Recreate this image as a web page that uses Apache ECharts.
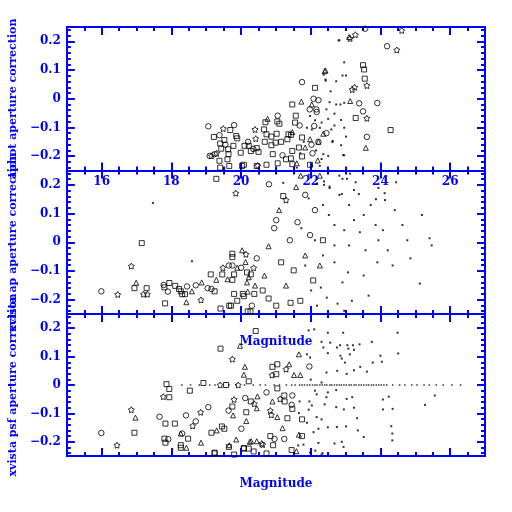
<!DOCTYPE html>
<html>
<head>
<meta charset="utf-8">
<script src="https://cdn.jsdelivr.net/npm/echarts@6/dist/echarts.min.js"></script>
<style>
  html, body { margin: 0; padding: 0; background: #fff; }
  #chart { width: 512px; height: 512px; }
</style>
</head>
<body>
<div id="chart"></div>
<script>
// tick labels
const xMajor = [16, 18, 20, 22, 24, 26]
const yMajor = [-0.2, -0.1, 0, 0.1, 0.2]
const yNames = ['aphot aperture correction', 'xvista ap aperture correction', 'xvista psf aperture correction']

// top panel: aphot
const topSquares = [[19.22,-0.133],[19.52,-0.144],[19.69,-0.109],[19.86,-0.130],[19.89,-0.138],[19.40,-0.156],[19.43,-0.174],[19.63,-0.176],[19.64,-0.193],[19.78,-0.164],[19.38,-0.216],[19.61,-0.211],[19.40,-0.240],[19.66,-0.234],[20.03,-0.234],[20.08,-0.230],[19.99,-0.188],[20.10,-0.164],[20.22,-0.164],[20.28,-0.182],[20.45,-0.172],[20.50,-0.185],[20.66,-0.107],[20.70,-0.082],[21.04,-0.079],[21.10,-0.087],[20.73,-0.124],[20.87,-0.132],[21.02,-0.122],[20.68,-0.150],[20.87,-0.162],[20.99,-0.153],[21.15,-0.150],[21.33,-0.141],[21.36,-0.124],[21.43,-0.126],[21.55,-0.083],[21.57,-0.059],[21.75,-0.135],[21.66,-0.170],[21.47,-0.182],[21.43,-0.208],[21.75,-0.201],[20.91,-0.193],[21.05,-0.225],[21.29,-0.211],[20.45,-0.234],[20.73,-0.230],[21.47,-0.228],[21.98,-0.230],[21.47,-0.020],[22.12,0.038],[23.50,0.117],[23.53,0.102],[23.55,0.070],[23.29,-0.067],[24.29,-0.109]]
const topCircles = [[19.06,-0.096],[19.38,-0.127],[19.80,-0.092],[19.10,-0.199],[19.24,-0.193],[19.55,-0.160],[21.05,-0.059],[21.68,-0.093],[21.75,0.058],[21.19,-0.197],[21.97,-0.037],[22.17,-0.046],[22.08,0.0],[22.22,-0.005],[22.16,-0.037],[22.10,-0.095],[22.45,-0.120],[22.22,-0.150],[22.02,-0.160],[22.05,-0.190],[23.56,0.244],[24.19,0.183],[23.39,-0.016],[23.91,-0.015],[23.50,-0.044],[23.61,-0.133],[20.20,-0.150],[20.35,-0.175]]
const topStars = [[19.49,-0.104],[20.40,-0.107],[20.42,-0.139],[19.15,-0.199],[19.30,-0.190],[23.13,0.210],[23.28,0.223],[24.61,0.238],[24.47,0.170],[23.19,0.032],[23.26,0.040],[23.61,0.046],[23.61,-0.068],[20.48,-0.233]]
const topTriangles = [[20.76,-0.070],[21.47,-0.116],[21.73,-0.010],[21.84,-0.170],[21.98,-0.141],[22.22,-0.150],[22.36,-0.122],[22.40,0.096],[22.42,0.099],[23.13,-0.008],[23.58,-0.171],[23.10,0.215],[22.03,-0.020],[22.20,-0.215],[21.60,-0.225]]
const topDots = [[21.89,-0.101],[21.98,-0.060],[22.03,-0.107],[22.12,-0.075],[22.26,-0.101],[22.31,-0.083],[22.50,-0.070],[22.59,-0.107],[22.68,-0.093],[22.87,-0.074],[22.96,-0.101],[23.01,-0.132],[22.63,-0.147],[22.87,-0.162],[22.36,-0.193],[22.50,-0.199],[22.96,-0.197],[22.45,-0.037],[22.54,-0.012],[22.73,-0.020],[22.96,-0.014],[22.96,0.127],[22.42,0.067],[22.73,0.061],[22.91,0.081],[23.01,0.081],[22.57,0.026],[22.82,0.204],[22.31,-0.210],[22.03,-0.234],[22.26,-0.234],[22.85,-0.020],[22.68,-0.052],[22.62,-0.151],[22.37,0.084],[22.43,0.063],[22.80,0.203],[22.93,-0.196],[21.80,-0.150],[21.70,-0.190],[22.15,-0.180],[21.60,-0.240]]

// middle panel: xvista ap
const midSquares = [[16.94,-0.160],[17.29,-0.160],[17.82,-0.213],[17.80,-0.157],[17.94,-0.142],[18.11,-0.152],[18.22,-0.163],[18.27,-0.171],[18.31,-0.181],[18.39,-0.181],[19.24,-0.171],[19.13,-0.112],[19.46,-0.112],[19.80,-0.112],[19.75,-0.040],[19.75,-0.052],[20.28,-0.112],[19.75,-0.131],[20.05,-0.180],[20.08,-0.188],[19.80,-0.180],[20.38,-0.180],[19.41,-0.231],[19.66,-0.221],[19.71,-0.221],[20.19,-0.241],[20.27,-0.241],[17.15,-0.003],[19.29,0.221],[21.21,0.161],[20.17,-0.105],[20.62,-0.168],[21.15,-0.070],[21.51,-0.098],[21.70,-0.204],[22.07,-0.133],[19.89,-0.204],[20.79,-0.196],[21.01,-0.221],[21.42,-0.211],[22.35,0.007]]
const midCircles = [[15.99,-0.171],[17.78,-0.149],[17.90,-0.172],[18.45,-0.154],[18.70,-0.150],[19.04,-0.160],[19.15,-0.163],[19.65,-0.081],[20.00,-0.089],[20.80,0.202],[20.45,-0.056],[20.95,0.049],[21.40,0.007],[21.62,0.070],[21.98,0.025],[20.31,-0.221],[19.75,-0.081],[22.12,0.112],[21.84,0.165],[21.01,0.077]]
const midStars = [[16.46,-0.182],[16.85,-0.083],[17.20,-0.181],[17.31,-0.181],[18.85,-0.201],[19.48,-0.089],[20.14,-0.042],[20.36,-0.089],[19.85,0.171],[21.29,0.147]]
const midTriangles = [[16.99,-0.141],[18.59,-0.171],[18.87,-0.140],[18.43,-0.209],[19.29,-0.131],[19.61,-0.129],[19.89,-0.089],[20.13,-0.069],[20.22,-0.122],[20.17,-0.140],[20.19,-0.172],[21.58,0.192],[22.26,0.232],[21.71,0.232],[20.79,-0.014],[21.09,0.112],[21.29,-0.151],[21.84,-0.046],[20.40,-0.151],[20.67,-0.116],[20.03,-0.028],[22.26,-0.081]]
const midDots = [[18.59,-0.066],[17.47,0.137],[21.21,0.207],[21.94,0.153],[21.94,0.235],[22.17,0.204],[22.38,0.212],[22.38,0.200],[22.54,0.194],[22.82,0.232],[22.91,0.221],[23.04,0.221],[23.13,0.239],[23.29,0.209],[22.89,0.168],[23.38,0.168],[24.12,0.171],[24.45,0.209],[23.87,0.150],[22.35,0.130],[22.52,0.095],[22.68,0.060],[23.10,0.130],[23.24,0.077],[23.41,0.035],[23.10,-0.011],[23.57,-0.028],[22.35,-0.046],[22.68,-0.070],[23.07,-0.105],[22.91,-0.140],[23.52,-0.116],[23.91,-0.070],[24.21,-0.028],[24.86,-0.056],[25.47,-0.011],[22.29,-0.158],[22.46,-0.193],[22.77,-0.214],[23.18,-0.204],[24.07,0.042],[24.63,0.060],[24.41,0.112],[23.94,0.189],[24.13,0.147],[25.41,0.014],[25.13,-0.144],[22.68,-0.011],[22.96,0.042],[21.84,-0.081],[22.01,-0.168],[22.18,-0.221],[22.96,-0.239],[23.66,-0.186],[23.52,0.095],[23.72,0.130],[23.86,0.060],[23.24,0.182],[22.82,0.165],[22.54,0.189],[22.12,0.007],[21.73,0.049],[24.35,-0.081],[24.77,0.007],[25.19,0.095],[23.94,0.007]]

// bottom panel: xvista psf
const botSquares = [[16.94,-0.168],[19.41,0.128],[20.22,0.013],[18.92,0.007],[19.57,0.0],[17.94,-0.014],[18.53,-0.020],[17.94,-0.043],[19.75,-0.076],[17.83,-0.136],[18.10,-0.136],[17.83,-0.203],[18.27,-0.212],[18.27,-0.221],[18.48,-0.189],[19.15,-0.168],[19.45,-0.146],[19.52,-0.154],[19.65,-0.218],[19.24,-0.238],[20.08,-0.222],[20.22,-0.224],[20.84,-0.180],[20.73,-0.241],[20.28,-0.058],[21.04,-0.012],[21.24,-0.037],[21.25,-0.058],[21.47,-0.084],[20.15,-0.096],[21.33,-0.117],[21.75,-0.121],[21.75,-0.180],[20.42,0.190],[21.04,0.073],[20.90,0.064],[21.01,0.038],[19.24,-0.241],[19.80,-0.245],[20.08,-0.224],[20.36,-0.234],[21.45,-0.229],[20.92,-0.212],[17.86,0.003],[17.80,-0.189]]
const botCircles = [[15.99,-0.169],[19.06,-0.078],[19.64,-0.090],[18.42,-0.107],[18.70,-0.128],[18.31,-0.171],[17.91,-0.191],[20.01,-0.154],[20.12,-0.046],[20.73,-0.026],[21.47,-0.037],[21.45,-0.070],[21.24,-0.190],[21.96,0.065],[17.66,-0.112],[20.96,-0.190]]
const botStars = [[16.44,-0.212],[16.85,-0.087],[19.75,0.091],[19.40,0.0],[19.92,0.0],[17.77,-0.041],[18.84,-0.096],[19.80,-0.051],[18.61,-0.144],[20.62,-0.210],[20.38,-0.066],[21.12,-0.049],[20.84,-0.090],[20.87,-0.105],[20.89,0.035],[21.29,0.056],[20.59,-0.206]]
const botTriangles = [[16.97,-0.115],[19.97,0.138],[20.11,0.064],[20.08,0.036],[19.77,-0.107],[18.27,-0.171],[18.43,-0.221],[18.85,-0.203],[19.30,-0.160],[19.86,-0.192],[20.29,-0.198],[20.45,-0.198],[20.47,-0.040],[20.90,-0.058],[20.45,-0.082],[20.15,-0.127],[21.04,-0.113],[21.19,-0.152],[21.66,-0.175],[21.66,0.108],[21.38,0.073],[21.52,0.035],[21.70,0.035],[19.66,-0.212],[20.25,-0.200],[21.59,-0.233]]
const botDots = [[21.89,0.108],[21.98,0.097],[21.94,0.192],[22.10,0.196],[22.31,0.152],[22.36,0.132],[22.56,0.149],[22.49,0.112],[22.75,0.132],[22.84,0.140],[22.85,0.103],[22.89,0.093],[23.05,0.140],[23.08,0.128],[23.21,0.140],[23.24,0.124],[23.40,0.143],[23.12,0.108],[22.98,0.079],[23.75,0.152],[24.00,0.103],[24.04,0.082],[23.78,0.079],[23.42,0.064],[23.61,0.047],[22.45,0.044],[22.76,0.050],[23.03,0.039],[23.24,0.052],[22.00,0.019],[22.31,0.009],[22.12,-0.020],[22.17,-0.033],[22.49,-0.026],[22.73,-0.018],[23.03,-0.049],[23.19,-0.043],[22.73,-0.078],[22.95,-0.086],[23.24,-0.080],[23.33,-0.117],[24.07,-0.051],[24.24,-0.041],[24.07,-0.086],[24.35,-0.084],[25.56,-0.037],[25.28,-0.070],[24.51,0.111],[24.49,0.184],[22.93,0.184],[22.49,0.184],[21.68,-0.058],[21.96,-0.058],[22.03,-0.072],[21.94,-0.087],[22.17,-0.113],[22.31,-0.121],[22.22,-0.154],[22.49,-0.149],[22.75,-0.148],[23.01,-0.146],[23.35,-0.160],[23.52,-0.183],[22.89,-0.200],[22.68,-0.206],[22.94,-0.218],[24.31,-0.145],[24.34,-0.171],[24.34,-0.195],[22.22,-0.204],[21.98,-0.238],[22.31,-0.245],[22.08,-0.166],[21.89,-0.133],[21.66,-0.099],[22.40,-0.068],[22.45,-0.043],[21.64,-0.213],[21.79,-0.210],[22.13,-0.231],[22.34,-0.240]]
// the row of faint points along zero
const botZeroX = [18.3,18.55,18.8,19.1,19.25,19.65,19.85,20.1,20.35,20.55,20.7,20.95,21.1,21.3,21.45,21.55,21.68,21.75,21.82,21.9,21.97,22.05,22.12,22.18,22.26,22.33,22.4,22.46,22.55,22.6,22.68,22.75,22.82,22.88,22.95,23.02,23.1,23.16,23.24,23.3,23.38,23.45,23.52,23.6,23.66,23.74,23.8,23.88,23.95,24.02,24.1,24.18,24.35,24.55,24.7,24.9,25.05,25.25,25.4,25.6,25.8,26.05,26.3]

const blue = '#0000ff'
const font = 'DejaVu Serif'
const xMinor = []
for (let v = 15; v <= 27.001; v += 0.5) xMinor.push(+v.toFixed(1))
const yMinor = []
for (let v = -0.24; v <= 0.2401; v += 0.02) yMinor.push(+v.toFixed(2))

const grids = [
  { left: 54, width: 431, top: 27, height: 143.5 },
  { left: 54, width: 431, top: 170.5, height: 143.5 },
  { left: 54, width: 431, top: 314, height: 142 }
]

const fmtY = v => {
  if (Math.abs(v) < 1e-9) return '0'
  return (v < 0 ? '\u2212' : '') + Math.abs(v).toFixed(1)
}

const xAxis = []
const yAxis = []
grids.forEach((g, gi) => {
  ;['bottom', 'top'].forEach(pos => {
    ;[true, false].forEach(major => {
      xAxis.push({
        type: 'value', gridIndex: gi, min: 15, max: 27, position: pos,
        axisLine: { show: major, onZero: false, lineStyle: { color: blue, width: 2 } },
        axisTick: { inside: true, length: major ? 8 : 4, customValues: major ? xMajor : xMinor, lineStyle: { color: blue, width: 2 } },
        axisLabel: {
          show: major && pos === 'bottom' && gi === 0, customValues: xMajor, margin: 5,
          color: blue, fontFamily: font, fontSize: 12, fontWeight: 'bold'
        },
        splitLine: { show: false },
        name: major && pos === 'bottom' && gi > 0 ? 'Magnitude' : '',
        nameLocation: 'middle', nameGap: 22,
        nameTextStyle: { color: blue, fontFamily: font, fontSize: 12, fontWeight: 'bold' }
      })
    })
  })
  ;['left', 'right'].forEach(pos => {
    ;[true, false].forEach(major => {
      yAxis.push({
        type: 'value', gridIndex: gi, min: -0.25, max: 0.25, position: pos,
        axisLine: { show: major, onZero: false, lineStyle: { color: blue, width: 2 } },
        axisTick: { inside: true, length: major ? 8 : 4, customValues: major ? yMajor : yMinor, lineStyle: { color: blue, width: 2 } },
        axisLabel: {
          show: major && pos === 'left', customValues: yMajor, margin: 6, formatter: fmtY,
          color: blue, fontFamily: font, fontSize: 12, fontWeight: 'bold'
        },
        splitLine: { show: false },
        name: major && pos === 'left' ? yNames[gi] : '',
        nameLocation: 'middle', nameGap: 41,
        nameTextStyle: { color: blue, fontFamily: font, fontSize: 11, fontWeight: 'bold' }
      })
    })
  })
})

const starPath = 'path://M0,-1L0.33,-0.45L0.951,-0.309L0.53,0.17L0.588,0.809L0,0.56L-0.588,0.809L-0.53,0.17L-0.951,-0.309L-0.33,-0.45Z'
const openStyle = { color: 'rgba(0,0,0,0)', borderColor: '#000', borderWidth: 1 }

function mk(gi, data, symbol, size, open) {
  return {
    type: 'scatter', xAxisIndex: gi * 4, yAxisIndex: gi * 4, data: data,
    symbol: symbol, symbolSize: size, silent: true,
    itemStyle: open ? openStyle : { color: '#000' }
  }
}

const series = [
  mk(0, topSquares, 'rect', 5, true),
  mk(0, topCircles, 'circle', 5.5, true),
  mk(0, topTriangles, 'triangle', 5, true),
  mk(0, topStars, starPath, 6, true),
  mk(0, topDots, 'rect', 2, false),
  mk(1, midSquares, 'rect', 5, true),
  mk(1, midCircles, 'circle', 5.5, true),
  mk(1, midTriangles, 'triangle', 5, true),
  mk(1, midStars, starPath, 6, true),
  mk(1, midDots, 'rect', 2, false),
  mk(2, botSquares, 'rect', 5, true),
  mk(2, botCircles, 'circle', 5.5, true),
  mk(2, botTriangles, 'triangle', 5, true),
  mk(2, botStars, starPath, 6, true),
  mk(2, botDots, 'rect', 2, false),
  mk(2, botZeroX.map(x => [x, 0]), 'rect', 1.5, false)
]

const chart = echarts.init(document.getElementById('chart'), null, { renderer: 'canvas' })
chart.setOption({
  animation: false,
  backgroundColor: '#fff',
  grid: grids,
  xAxis: xAxis,
  yAxis: yAxis,
  series: series
})
</script>
</body>
</html>
